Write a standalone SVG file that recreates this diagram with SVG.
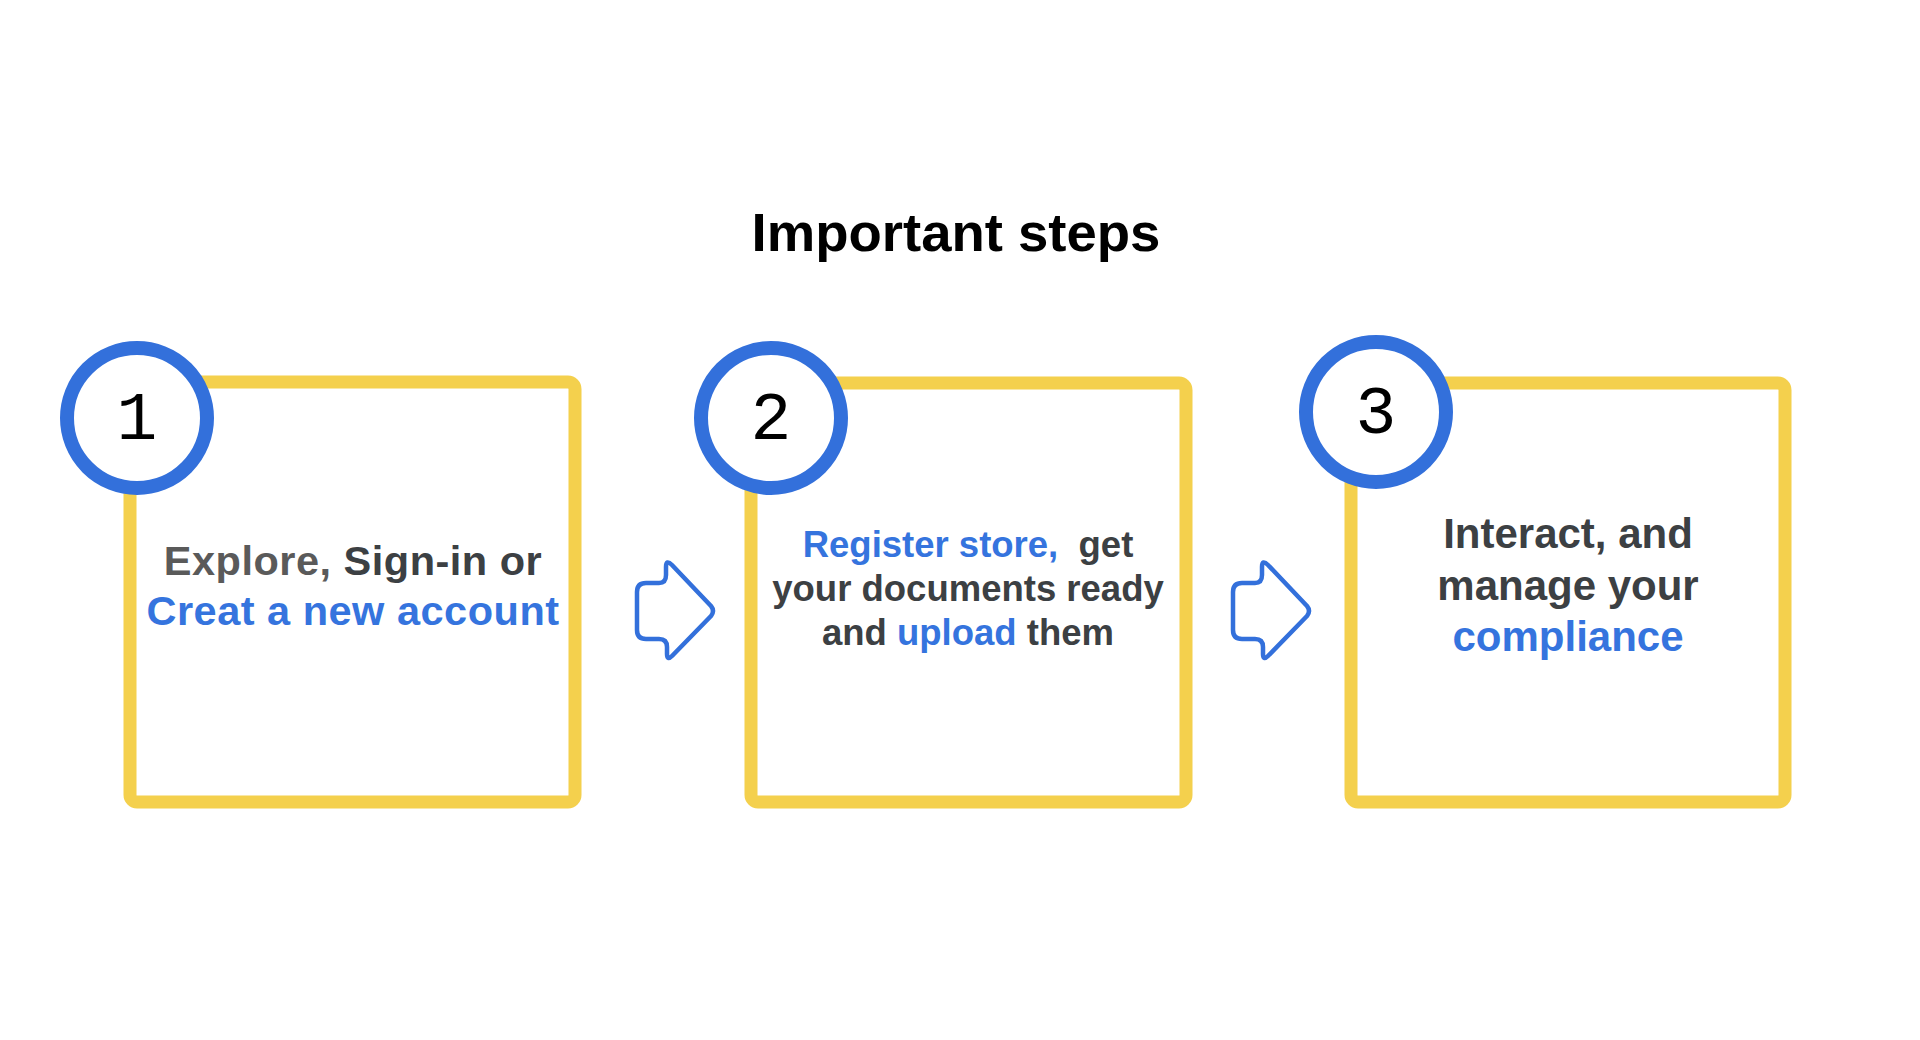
<svg xmlns="http://www.w3.org/2000/svg" width="1920" height="1040" viewBox="0 0 1920 1040">
  <style>
    .box { fill: #ffffff; stroke: #F4D04D; stroke-width: 13; }
    .badge { fill: #ffffff; stroke: #3370DB; stroke-width: 14; }
    .num { font-family: "Liberation Mono", "DejaVu Sans Mono", monospace; font-size: 68px; fill: #000000; text-anchor: middle; }
    .lbl { font-family: "Liberation Sans", Arial, sans-serif; font-weight: bold; text-anchor: middle; fill: #3C4043; }
    .blue { fill: #3574DE; }
    .gray { fill: #5A5A5A; }
    .title { font-family: "Liberation Sans", Arial, sans-serif; font-weight: bold; font-size: 54.5px; fill: #000000; text-anchor: middle; }
    .arrow { fill: none; stroke: #3370DB; stroke-width: 4.5; stroke-linejoin: round; }
  </style>
  <defs>
    <path id="arrowShape" d="M 646 583 L 659 583 Q 666 583 666 575 L 666 567 Q 666 559 672 565 L 711 606 Q 715 611 711 616 L 672 656 Q 667 661 667 654 L 667 647 Q 667 639 659 639 L 646 639 Q 637 639 637 630 L 637 592 Q 637 583 646 583 Z"/>
  </defs>
  <rect width="1920" height="1040" fill="#ffffff"/>

  <g id="title">
    <text class="title" x="956" y="251">Important steps</text>
  </g>

  <g id="connectors">
    <use href="#arrowShape" class="arrow"/>
    <use href="#arrowShape" class="arrow" transform="translate(596,0)"/>
  </g>

  <g id="step1">
    <rect class="box" x="130" y="382" width="445" height="420" rx="7"/>
    <circle class="badge" cx="137" cy="418" r="70"/>
    <text class="num" x="137" y="439">1</text>
    <text class="lbl" x="353" y="575" font-size="41.5" letter-spacing="0.5"><tspan class="gray">Explore,</tspan> Sign-in or</text>
    <text class="lbl blue" x="353" y="625" font-size="41.5" letter-spacing="0.5">Creat a new account</text>
  </g>

  <g id="step2">
    <rect class="box" x="751" y="383" width="435" height="419" rx="7"/>
    <circle class="badge" cx="771" cy="418" r="70"/>
    <text class="num" x="771" y="439">2</text>
    <text class="lbl" x="968" y="557" font-size="36.5" xml:space="preserve"><tspan class="blue">Register store,</tspan>  get</text>
    <text class="lbl" x="968" y="601" font-size="36.5">your documents ready</text>
    <text class="lbl" x="968" y="645" font-size="36.5">and <tspan class="blue">upload</tspan> them</text>
  </g>

  <g id="step3">
    <rect class="box" x="1351" y="383" width="434" height="419" rx="7"/>
    <circle class="badge" cx="1376" cy="412" r="70"/>
    <text class="num" x="1376" y="433">3</text>
    <text class="lbl" x="1568" y="548" font-size="42">Interact, and</text>
    <text class="lbl" x="1568" y="600" font-size="42">manage your</text>
    <text class="lbl blue" x="1568" y="651" font-size="42">compliance</text>
  </g>
</svg>
